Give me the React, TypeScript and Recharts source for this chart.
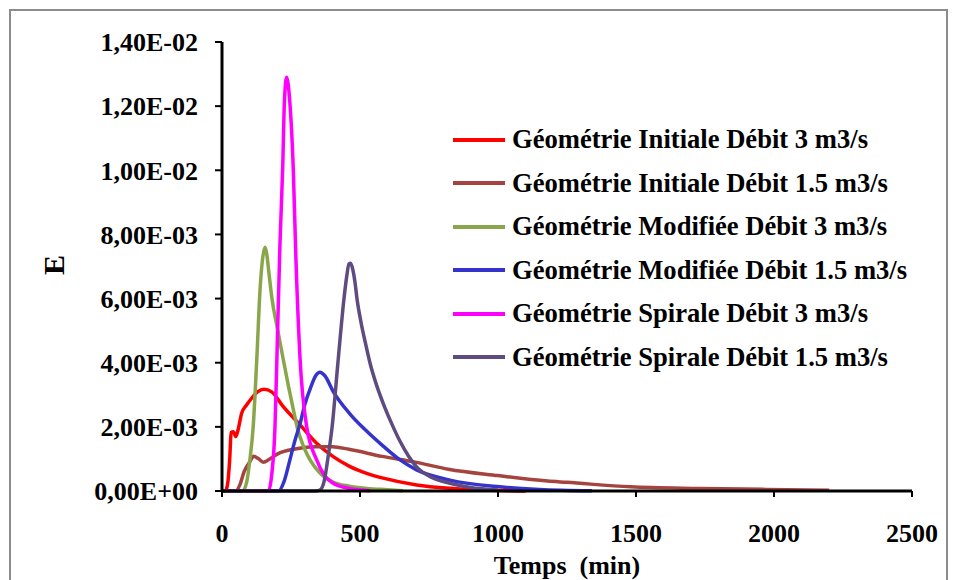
import { LineChart, Line, XAxis, YAxis } from "recharts";

// E(t) curves: [temps (min), E]
const initiale3 = [
  [0, 0], [12, 0], [20, 0.0002], [28, 0.001], [33, 0.00182], [41, 0.00185], [50, 0.0017],
  [58, 0.0019], [71, 0.00242], [89, 0.00268], [108, 0.0029], [130, 0.0031], [152, 0.00317],
  [180, 0.00309], [222, 0.00263], [283, 0.00206], [343, 0.00149], [403, 0.00107], [464, 0.00076],
  [524, 0.00055], [584, 0.0004], [705, 0.00019], [826, 0.000085], [950, 0.00003], [1100, 0],
];
const initiale15 = [
  [0, 0], [50, 0], [65, 0.0002], [80, 0.0006], [100, 0.0009], [115, 0.00108], [130, 0.00102],
  [150, 0.0009], [170, 0.00098], [200, 0.00115], [270, 0.00132], [340, 0.00138], [400, 0.00138],
  [460, 0.0013], [580, 0.00108], [700, 0.0009], [820, 0.00068], [1000, 0.00048], [1180, 0.00031],
  [1250, 0.00027], [1480, 0.00013], [1730, 0.00008], [1970, 0.00005], [2200, 0.00002],
];
const modifiee3 = [
  [0, 0], [75, 0], [90, 0.0003], [100, 0.0009], [113, 0.002], [126, 0.0041], [138, 0.0063],
  [148, 0.0073], [156, 0.0076], [162, 0.0074], [170, 0.0068], [181, 0.006], [200, 0.0051],
  [222, 0.0041], [240, 0.0033], [257, 0.0026], [275, 0.0019], [295, 0.0014], [319, 0.00097],
  [355, 0.00056], [402, 0.00028], [460, 0.00015], [525, 0.00008], [600, 0.00004], [656, 0.00001],
];
const modifiee15 = [
  [0, 0], [205, 0], [225, 0.0003], [246, 0.00097], [265, 0.0016], [283, 0.0021], [300, 0.0027],
  [320, 0.0032], [340, 0.0036], [355, 0.0037], [372, 0.0036], [403, 0.0031], [464, 0.0024],
  [520, 0.0019], [584, 0.0014], [640, 0.001], [705, 0.00066], [826, 0.00034], [1007, 0.00013],
  [1150, 0.00005], [1340, 0.00001],
];
const spirale3 = [
  [0, 0], [168, 0], [180, 0.0005], [192, 0.002], [200, 0.0045], [210, 0.0077], [220, 0.0101],
  [226, 0.0121], [234, 0.0129], [246, 0.0121], [258, 0.0101], [268, 0.0072], [283, 0.0041],
  [307, 0.002], [343, 0.00097], [370, 0.0005], [403, 0.00024], [450, 0.0001], [536, 0.00001],
];
const spirale15 = [
  [0, 0], [340, 0], [355, 0.00003], [370, 0.0003], [385, 0.0011], [399, 0.002], [420, 0.004],
  [442, 0.006], [452, 0.0067], [460, 0.00708], [466, 0.0071], [474, 0.0069], [482, 0.0065],
  [489, 0.006], [505, 0.0052], [520, 0.0046], [536, 0.004], [560, 0.0033], [590, 0.0026],
  [620, 0.002], [645, 0.00155], [675, 0.0011], [705, 0.00075], [760, 0.00042], [826, 0.00024],
  [900, 0.00011], [1000, 0.00003],
];

const seriesNames = [
  "Géométrie Initiale Débit 3 m3/s",
  "Géométrie Initiale Débit 1.5 m3/s",
  "Géométrie Modifiée Débit 3 m3/s",
  "Géométrie Modifiée Débit 1.5 m3/s",
  "Géométrie Spirale Débit 3 m3/s",
  "Géométrie Spirale Débit 1.5 m3/s",
];
const seriesColors = ["#ff0000", "#a5443f", "#8aa64a", "#3434cc", "#ff00ff", "#5e4b80"];
const seriesPoints = [initiale3, initiale15, modifiee3, modifiee15, spirale3, spirale15];

const xTicks = [0, 500, 1000, 1500, 2000, 2500];
const yTicks = [0, 0.002, 0.004, 0.006, 0.008, 0.01, 0.012, 0.014];

const FONT = '"Liberation Serif", "Times New Roman", serif';
const tickStyle = { fontFamily: FONT, fontWeight: 700, fontSize: 26, fill: "#000" };

function fmtE(v: number) {
  const [m, e] = v.toExponential(2).split("e");
  const n = parseInt(e, 10);
  const sign = n < 0 ? "-" : "+";
  return `${m.replace(".", ",")}E${sign}${String(Math.abs(n)).padStart(2, "0")}`;
}

export default function App() {
  const series = seriesNames.map((name, i) => ({
    name,
    color: seriesColors[i],
    data: seriesPoints[i].map(([x, y]) => ({ x, y })),
  }));

  return (
    <div style={{ position: "absolute", left: 0, top: 0, width: 957, height: 580, background: "#fff", overflow: "hidden" }}>
      <div style={{
        position: "absolute", left: 9, top: 9, width: 939, height: 600,
        border: "2px solid #8c8c8c", boxSizing: "border-box",
      }} />
      <LineChart
        width={957}
        height={580}
        margin={{ top: 42, right: 45, bottom: 29, left: 10 }}
        style={{ position: "absolute", left: 0, top: 0 }}
      >
        <XAxis
          type="number"
          dataKey="x"
          domain={[0, 2500]}
          ticks={xTicks}
          allowDataOverflow
          height={60}
          tickSize={6}
          tickMargin={27}
          axisLine={{ stroke: "#000", strokeWidth: 3 }}
          tickLine={{ stroke: "#000", strokeWidth: 2 }}
          tick={tickStyle}
        />
        <YAxis
          type="number"
          dataKey="y"
          domain={[0, 0.014]}
          ticks={yTicks}
          width={212}
          tickSize={7}
          tickMargin={17}
          tickFormatter={fmtE}
          axisLine={{ stroke: "#000", strokeWidth: 3 }}
          tickLine={{ stroke: "#000", strokeWidth: 2 }}
          tick={tickStyle}
        />
        {series.map((s) => (
          <Line
            key={s.name}
            data={s.data}
            dataKey="y"
            name={s.name}
            type="monotone"
            stroke={s.color}
            strokeWidth={3.5}
            dot={false}
            activeDot={false}
            isAnimationActive={false}
          />
        ))}
      </LineChart>

      <div style={{
        position: "absolute", left: 54, top: 265, transform: "translate(-50%, -50%) rotate(-90deg)",
        fontFamily: FONT, fontWeight: 700, fontSize: 30, lineHeight: 1,
      }}>
        E
      </div>
      <div style={{
        position: "absolute", left: 567, top: 566, transform: "translate(-50%, -50%)",
        fontFamily: FONT, fontWeight: 700, fontSize: 26, whiteSpace: "pre", lineHeight: 1,
      }}>
        {"Temps  (min)"}
      </div>

      <div style={{ position: "absolute", left: 453, top: 118, fontFamily: FONT, fontWeight: 700, fontSize: 26.6 }}>
        {series.map((s) => (
          <div key={s.name} style={{ display: "flex", alignItems: "center", height: 43.5, whiteSpace: "nowrap" }}>
            <span style={{ display: "inline-block", width: 52, height: 4, background: s.color, marginRight: 7 }} />
            <span>{s.name}</span>
          </div>
        ))}
      </div>
    </div>
  );
}
